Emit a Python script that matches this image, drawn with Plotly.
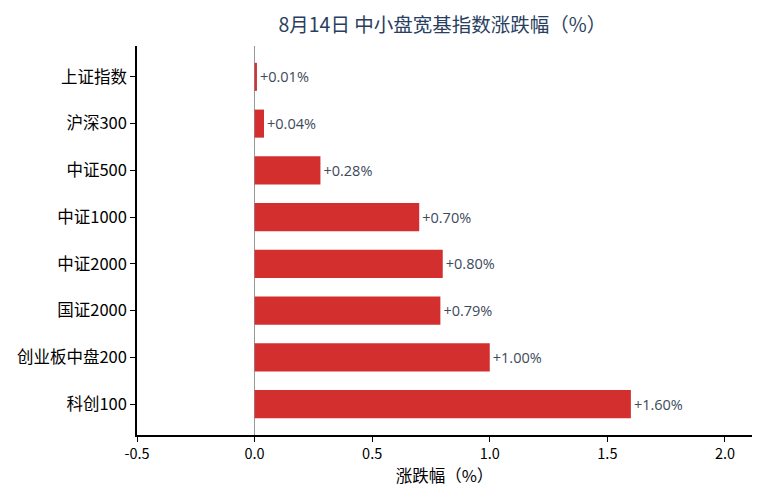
import plotly.graph_objects as go

# 中小盘宽基指数涨跌幅数据
indices = ["上证指数", "沪深300", "中证500", "中证1000", "中证2000", "国证2000", "创业板中盘200", "科创100"]
changes = [0.01, 0.04, 0.28, 0.70, 0.80, 0.79, 1.00, 1.60]
labels = ["+%.2f%%" % v for v in changes]

fig = go.Figure(go.Bar(
    x=changes,
    y=indices,
    orientation="h",
    width=0.6,
    marker=dict(color="#d32f2f", line=dict(width=0)),
    text=labels,
    textposition="outside",
    cliponaxis=False,
    textfont=dict(family="Open Sans", size=14.5, color="#3d4a5a"),
))

fig.update_layout(
    width=745,
    height=482,
    margin=dict(l=129, r=1, t=38, b=55),
    plot_bgcolor="white",
    paper_bgcolor="white",
    font=dict(family="Noto Sans CJK SC", color="black"),
    title=dict(
        text="8月14日 中小盘宽基指数涨跌幅（%）",
        x=0.583, xanchor="center", y=0.965, yanchor="middle",
        font=dict(size=19.5, color="#2a3f5f"),
    ),
    showlegend=False,
)

fig.update_xaxes(
    range=[-0.5, 2.115],
    tickvals=[-0.5, 0.0, 0.5, 1.0, 1.5, 2.0],
    ticktext=["-0.5", "0.0", "0.5", "1.0", "1.5", "2.0"],
    showline=True, linecolor="black", linewidth=1.5,
    ticks="outside", ticklen=5, tickcolor="black",
    showgrid=False,
    zeroline=True, zerolinecolor="#999999", zerolinewidth=1,
    tickfont=dict(size=14.5, color="black"),
    title=dict(text="涨跌幅（%）", font=dict(size=16.5, color="black"), standoff=6),
)

fig.update_yaxes(
    autorange=False,
    range=[7.66, -0.66],
    showline=True, linecolor="black", linewidth=1.5,
    ticks="outside", ticklen=5, tickcolor="black",
    showgrid=False,
    tickfont=dict(size=16.5, color="black"),
)

fig.write_html("out.html")
